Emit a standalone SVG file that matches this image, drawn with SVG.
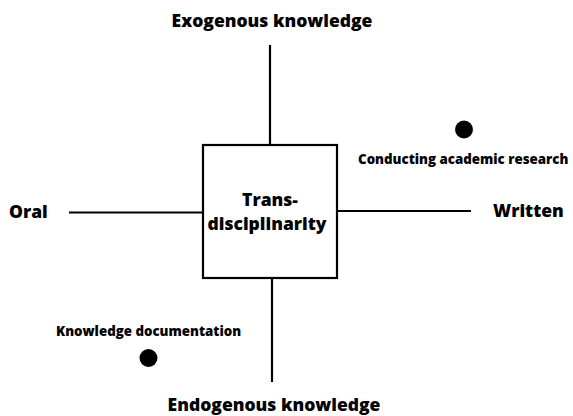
<svg xmlns="http://www.w3.org/2000/svg" width="573" height="416" viewBox="0 0 573 416">
<style>
.t{font-family:"Open Sans","Noto Sans",sans-serif;font-weight:800;fill:#000}
.big{font-size:17.5px}
.sm{font-size:13.3px}
.ln{stroke:#000;stroke-width:2.2;fill:none}
</style>
<rect width="573" height="416" fill="#fff"/>
<g id="connectors">
<line class="ln" x1="270" y1="45" x2="270" y2="145"/>
<line class="ln" x1="272" y1="278" x2="272" y2="382"/>
<line class="ln" x1="69" y1="212.5" x2="203" y2="212.5"/>
<line class="ln" x1="337" y1="211" x2="471" y2="211"/>
</g>
<g id="center">
<rect class="ln" x="203" y="145" width="134" height="133"/>
<text class="t big" x="270" y="206" text-anchor="middle">Trans-</text>
<text class="t big" x="267" y="230" text-anchor="middle">disciplinarity</text>
</g>
<g id="exogenous"><text class="t big" x="272" y="27" text-anchor="middle">Exogenous knowledge</text></g>
<g id="endogenous"><text class="t big" x="274" y="411" text-anchor="middle">Endogenous knowledge</text></g>
<g id="oral"><text class="t big" x="9" y="218">Oral</text></g>
<g id="written"><text class="t big" x="493" y="217">Written</text></g>
<g id="research">
<circle cx="464" cy="129.5" r="9"/>
<text class="t sm" x="358" y="164">Conducting academic research</text>
</g>
<g id="documentation">
<circle cx="148.5" cy="358" r="9"/>
<text class="t sm" x="56" y="336">Knowledge documentation</text>
</g>
</svg>
